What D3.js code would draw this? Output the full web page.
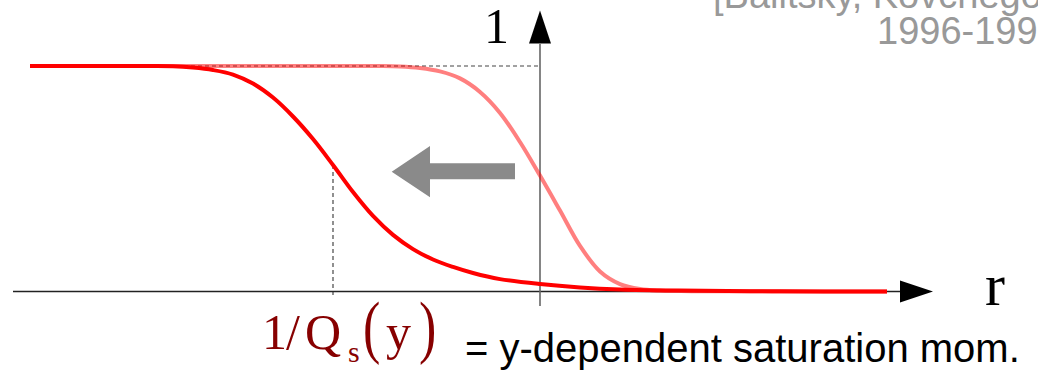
<!DOCTYPE html>
<html>
<head>
<meta charset="utf-8">
<script src="https://cdn.jsdelivr.net/npm/d3@7"></script>
<style>
  html, body { margin: 0; padding: 0; background: #fff; }
  svg { display: block; }
</style>
</head>
<body>
<svg id="chart" width="1038" height="370"></svg>
<script>
// Dipole S-matrix versus dipole size r, before and after evolution in y.
// r is in arbitrary units with the vertical axis at r = 0.
const rGrid = [-5.10, -4.40, -3.90, -3.67, -3.47, -3.27, -3.07, -2.87, -2.67, -2.47,
               -2.27, -2.07, -1.87, -1.67, -1.47, -1.27, -1.07, -0.87, -0.67, -0.40,
               0.00, 0.40, 0.80, 1.40, 2.40, 3.47];
// evolved (larger y): saturation moved to smaller r
const evolvedS = [1.000, 1.000, 1.000, 0.999, 0.993, 0.982, 0.962, 0.922, 0.860, 0.776,
                  0.676, 0.561, 0.441, 0.335, 0.251, 0.188, 0.142, 0.109, 0.082, 0.055,
                  0.033, 0.018, 0.009, 0.004, 0.001, 0.000];

const rGridInit = [-5.10, -2.40, -1.60, -1.40, -1.20, -1.00, -0.80, -0.60, -0.40, -0.20,
                   0.00, 0.20, 0.40, 0.60, 0.80, 1.00, 1.20, 1.60, 2.40, 3.47];
// initial (smaller y)
const initialS = [1.000, 1.000, 1.000, 0.998, 0.991, 0.976, 0.945, 0.885, 0.792, 0.663,
                  0.514, 0.359, 0.202, 0.089, 0.033, 0.011, 0.004, 0.001, 0.0005, 0.000];

// where the evolved curve defines 1/Q_s(y)
const satR = -2.07;
const satS = 0.561;

const yAxisLabel = "1";
const xAxisLabel = "r";
const refLines = ["[Balitsky, Kovchegov,", "1996-1999]"];
const captionText = "= y-dependent saturation mom.";

const svg = d3.select("#chart");

const x = d3.scaleLinear().domain([-5.27, 3.93]).range([13, 933]);
const y = d3.scaleLinear().domain([0, 1]).range([291.5, 66]);

// reference citation (top right, runs off the edge)
const ref = svg.append("g")
  .attr("font-family", "'Liberation Sans', Arial, sans-serif")
  .attr("font-size", 38)
  .attr("fill", "#999999");
ref.append("text").attr("x", 713).attr("y", 8).text(refLines[0]);
ref.append("text").attr("x", 877).attr("y", 44).text(refLines[1]);

// dashed guides
svg.append("line")
  .attr("x1", x(-5.10)).attr("x2", x(0))
  .attr("y1", y(1)).attr("y2", y(1))
  .attr("stroke", "#444").attr("stroke-width", 1.2)
  .attr("stroke-dasharray", "4,3");
svg.append("line")
  .attr("x1", x(satR)).attr("x2", x(satR))
  .attr("y1", y(satS)).attr("y2", 297)
  .attr("stroke", "#555").attr("stroke-width", 1.3)
  .attr("stroke-dasharray", "4,3");

// axes
svg.append("line")
  .attr("x1", x(-5.27)).attr("x2", 901)
  .attr("y1", y(0)).attr("y2", y(0))
  .attr("stroke", "#222").attr("stroke-width", 1.6);
svg.append("path")
  .attr("d", `M900,${y(0) - 11}L933,${y(0)}L900,${y(0) + 11}Z`)
  .attr("fill", "#000");

svg.append("line")
  .attr("x1", x(0)).attr("x2", x(0))
  .attr("y1", 306).attr("y2", 44)
  .attr("stroke", "#666").attr("stroke-width", 1.6);
svg.append("path")
  .attr("d", `M${x(0) - 11},43.5L${x(0)},10.5L${x(0) + 11},43.5Z`)
  .attr("fill", "#000");

// shift arrow
svg.append("path")
  .attr("d", "M391.7,171.7L430,146L430,163.3L515,163.3L515,179.3L430,179.3L430,197.3Z")
  .attr("fill", "#8a8a8a");

const line = d3.line()
  .x(d => x(d[0]))
  .y(d => y(d[1]))
  .curve(d3.curveCatmullRom.alpha(0.5));

svg.append("path")
  .datum(d3.zip(rGridInit, initialS))
  .attr("d", line)
  .attr("fill", "none")
  .attr("stroke", "#ff0000")
  .attr("stroke-opacity", 0.5)
  .attr("stroke-width", 4);

svg.append("path")
  .datum(d3.zip(rGrid, evolvedS))
  .attr("d", line)
  .attr("fill", "none")
  .attr("stroke", "#ff0000")
  .attr("stroke-width", 4);

// axis labels
const serif = "'Liberation Serif', 'Times New Roman', serif";
svg.append("text")
  .attr("x", 484).attr("y", 43)
  .attr("font-family", serif).attr("font-size", 50)
  .text(yAxisLabel);
svg.append("text")
  .attr("x", 985).attr("y", 305)
  .attr("font-family", serif).attr("font-size", 60)
  .text(xAxisLabel);

// 1/Q_s(y) label, glyph by glyph
const qs = svg.append("g")
  .attr("font-family", serif)
  .attr("fill", "#870000");
qs.append("text").attr("x", 262).attr("y", 349).attr("font-size", 50).text("1");
qs.append("text").attr("x", 286).attr("y", 349).attr("font-size", 50).text("/");
qs.append("text").attr("x", 305).attr("y", 349).attr("font-size", 50).text("Q");
qs.append("text").attr("x", 348).attr("y", 362).attr("font-size", 30).text("s");
qs.append("text").attr("font-size", 52)
  .attr("transform", "translate(363,350) scale(1,1.33)").text("(");
qs.append("text").attr("x", 386).attr("y", 349).attr("font-size", 50).text("y");
qs.append("text").attr("font-size", 52)
  .attr("transform", "translate(419,350) scale(1,1.33)").text(")");

svg.append("text")
  .attr("x", 465).attr("y", 362)
  .attr("font-family", "'Liberation Sans', Arial, sans-serif")
  .attr("font-size", 40)
  .attr("fill", "#000")
  .text(captionText);
</script>
</body>
</html>
